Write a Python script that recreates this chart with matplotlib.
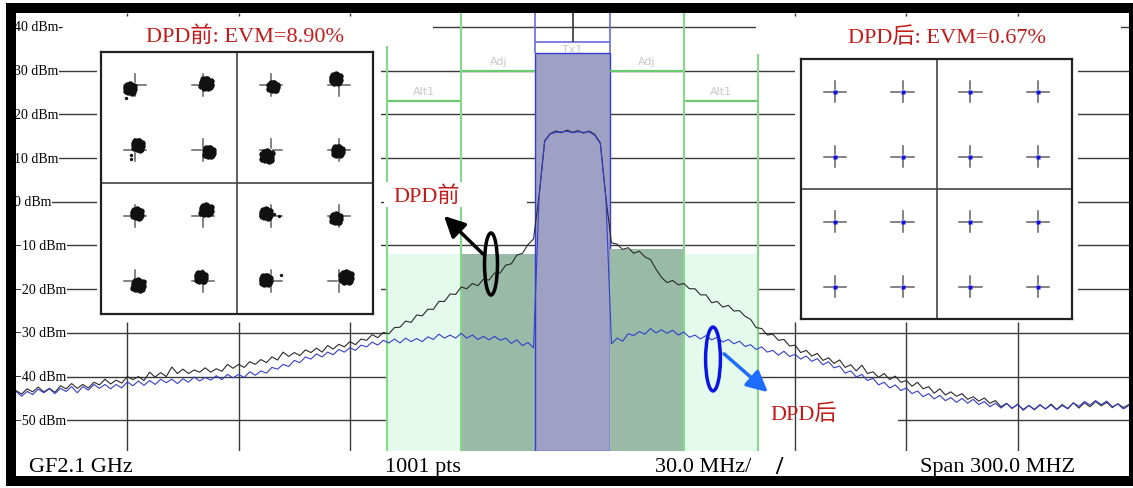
import numpy as np
import matplotlib
matplotlib.use("Agg")
import matplotlib.pyplot as plt
from matplotlib.patches import Rectangle, Ellipse, FancyArrowPatch

# ---------------- data ----------------
freq_mhz = np.linspace(-150, 150, 201)          # 1.5 MHz sampling over 300 MHz span

before_dpd = [
    -43.2, -44.0, -42.8, -43.5, -42.4, -43.5, -42.7, -43.6, -42.1, -42.8,
    -41.6, -42.7, -41.8, -42.6, -41.3, -41.9, -40.6, -41.7, -40.8, -41.5,
    -40.0, -40.7, -40.0, -40.9, -39.0, -40.1, -39.1, -40.0, -37.8, -39.3,
    -38.3, -39.3, -38.5, -39.0, -38.0, -39.0, -38.2, -38.8, -37.2, -38.1,
    -37.2, -37.9, -36.6, -37.2, -36.1, -36.8, -35.5, -36.2, -34.4, -35.4,
    -34.5, -35.2, -33.9, -34.5, -33.5, -34.4, -32.9, -33.7, -32.6, -33.2,
    -32.0, -32.7, -31.4, -31.7, -30.4, -31.1, -29.9, -30.2, -28.8, -28.7,
    -27.3, -27.6, -25.9, -26.1, -24.6, -24.6, -22.8, -22.8, -21.1, -21.2,
    -19.5, -19.9, -18.7, -19.2, -17.7, -17.9, -16.3, -16.3, -14.5, -14.2,
    -12.2, -11.8, -9.8, -8.5, 1.5, 14.0, 15.6, 16.2, 15.8, 16.4,
    15.9, 16.3, 15.7, 16.2, 15.4, 13.5, 1.0, -9.4, -9.7, -10.9,
    -10.5, -11.8, -11.3, -12.6, -13.2, -15.4, -17.3, -18.5, -18.0, -19.0,
    -18.7, -19.9, -19.9, -21.3, -21.3, -23.1, -22.8, -24.1, -23.7, -25.0,
    -24.9, -26.2, -26.9, -28.8, -29.0, -30.5, -30.3, -31.7, -31.5, -33.0,
    -32.8, -34.5, -34.0, -35.3, -34.7, -36.3, -35.7, -37.0, -36.2, -37.9,
    -37.3, -38.7, -37.4, -39.3, -38.9, -40.2, -39.3, -40.7, -39.9, -41.3,
    -40.9, -42.2, -41.3, -42.8, -42.3, -43.8, -42.8, -44.2, -43.5, -44.5,
    -43.9, -45.2, -44.6, -45.6, -44.9, -46.1, -45.5, -46.9, -46.1, -47.3,
    -46.3, -47.7, -46.6, -47.6, -46.5, -47.4, -46.3, -47.5, -46.4, -47.3,
    -46.0, -47.2, -46.0, -46.9, -45.7, -46.7, -45.9, -47.1, -46.2, -47.1, -46.4,
]

after_dpd = [
    -43.4, -44.5, -43.4, -44.1, -42.9, -43.7, -42.8, -43.9, -42.7, -43.4,
    -42.3, -43.7, -42.3, -43.1, -41.8, -42.7, -41.8, -42.8, -41.8, -42.6,
    -41.2, -42.1, -41.0, -42.0, -40.9, -41.8, -40.6, -41.4, -40.6, -41.6,
    -40.5, -41.3, -40.1, -41.0, -40.2, -40.8, -39.8, -40.7, -39.5, -40.3,
    -39.5, -40.2, -38.9, -39.7, -38.7, -39.2, -37.9, -38.3, -37.2, -37.7,
    -36.3, -36.8, -35.5, -36.0, -34.8, -35.5, -34.4, -35.0, -33.8, -34.4,
    -33.4, -34.0, -32.8, -33.2, -32.1, -32.8, -31.7, -32.3, -31.4, -32.3,
    -31.2, -32.0, -31.3, -32.0, -30.9, -31.5, -30.3, -31.2, -30.5, -31.2,
    -30.1, -31.2, -30.5, -31.5, -30.8, -31.6, -30.8, -31.7, -31.2, -32.4,
    -31.6, -32.9, -32.2, -33.4, 1.2, 13.8, 15.5, 15.9, 16.0, 16.1,
    15.8, 16.0, 15.9, 16.0, 15.2, 13.3, 0.8, -32.5, -31.2, -31.9,
    -30.2, -30.6, -29.7, -30.3, -29.0, -30.0, -29.3, -30.1, -29.4, -30.5,
    -29.8, -31.0, -30.5, -31.4, -30.6, -31.6, -31.0, -32.1, -31.5, -32.5,
    -31.9, -33.1, -32.7, -33.8, -33.2, -34.4, -34.0, -35.1, -34.2, -35.4,
    -34.9, -36.0, -35.3, -36.5, -35.9, -37.3, -36.6, -38.0, -37.6, -39.2,
    -38.7, -40.1, -39.5, -40.9, -40.4, -41.9, -41.3, -42.6, -41.9, -43.2,
    -42.6, -43.9, -43.3, -44.6, -43.9, -45.1, -44.3, -45.5, -44.8, -45.9,
    -45.0, -46.1, -45.2, -46.4, -45.7, -46.9, -46.1, -47.2, -46.2, -47.2,
    -46.4, -47.5, -46.6, -47.5, -46.4, -47.4, -46.5, -47.6, -46.6, -47.4,
    -46.0, -46.8, -45.7, -46.5, -45.5, -46.4, -45.6, -46.9, -46.3, -47.4, -46.6,
]

grid_levels_dbm = [40, 30, 20, 10, 0, -10, -20, -30, -40, -50]
y_tick_labels = ['40 dBm-', '30 dBm', '20 dBm', '10 dBm', '0 dBm',
                 '\u221210 dBm', '\u221220 dBm', '\u221230 dBm', '\u221240 dBm', '\u221250 dBm']
grid_freqs_mhz = [-120, -90, -60, 60, 90, 120]

chan_names = ['Alt1', 'Adj', 'Tx1', 'Adj', 'Alt1']
chan_lo = [-50, -30, -10, 10, 30]
chan_hi = [-30, -10, 10, 30, 50]
chan_fill_top = [-11.9, -11.9, 34.05, -10.8, -12.0]
chan_limit = [23.1, 30.0, 36.6, 30.0, 23.1]
chan_colors = ['#e4faec', '#98baa6', '#9ea0c4', '#98baa6', '#e4faec']

iq_levels = [-3, -1, 1, 3]
# DPD-before cluster centroid offsets (row-major, top row first)
before_dI = [-0.15, 0.09, 0.06, -0.09, 0.09, 0.18, -0.12, -0.03,
             0.06, 0.09, -0.15, -0.09, 0.09, -0.06, -0.15, 0.21]
before_dQ = [-0.12, 0.03, -0.06, 0.18, 0.15, -0.06, -0.18, -0.03,
             0.06, 0.18, 0.06, -0.09, -0.12, 0.12, 0.03, 0.12]
before_size = [1.0, 1.1, 0.9, 1.0, 1.0, 1.0, 1.1, 1.0,
               1.0, 1.1, 1.0, 0.9, 1.1, 1.0, 1.0, 1.2]
blob_shape_x = [0.00, 0.45, -0.45, 0.80, -0.80, 0.25, -0.30, 0.85, -0.85,
                0.40, -0.55, 0.05, 0.65, -0.25, 0.30, -0.70, 0.55, -0.10,
                0.20, -0.20, 0.00, 0.15]
blob_shape_y = [0.00, 0.35, -0.30, -0.15, 0.40, 0.80, -0.75, 0.50, -0.50,
                -0.85, 0.80, 0.95, -0.65, 0.20, -0.35, 0.05, 0.10, -0.40,
                -0.10, 0.45, -0.45, 0.55]
stray_I = [-3.26, -3.12, -3.12, 1.09, 1.24, 1.29]
stray_Q = [2.60, 0.85, 0.73, -0.94, -1.00, -2.82]

evm_before = 8.90
evm_after = 0.67

# ---------------- layout helpers ----------------
W, H = 1133, 489
DPI = 100
X0, X1, YT, YB = 16, 1129, 14, 452       # plot area in pixels
Y_TOP = 43.2
Y_BOT = Y_TOP - (YB - YT) / 4.37

def fpx(px):
    return -150 + (px - X0) * 300.0 / (X1 - X0)

def dpx(py):
    return Y_TOP - (py - YT) * (Y_TOP - Y_BOT) / (YB - YT)

SERIF = ['Liberation Serif', 'Noto Sans CJK SC']
RED = '#c41a1a'

fig = plt.figure(figsize=(W / DPI, H / DPI), dpi=DPI)
fig.patch.set_facecolor('white')
fig.add_artist(Rectangle((6 / W, 1 - 487 / H), (1133 - 6) / W, (487 - 4) / H,
                         transform=fig.transFigure, fc='black', ec='none', zorder=-3))
fig.add_artist(Rectangle((X0 / W, 1 - 477 / H), (X1 - X0) / W, (477 - YT) / H,
                         transform=fig.transFigure, fc='white', ec='none', zorder=-2))

ax = fig.add_axes([X0 / W, 1 - YB / H, (X1 - X0) / W, (YB - YT) / H])
ax.set_xlim(-150, 150)
ax.set_ylim(Y_BOT, Y_TOP)
ax.axis('off')

# horizontal grid
ax.hlines(grid_levels_dbm, -150, 150, color='#3a3a3a', lw=1.0, zorder=1)

# channel fills
for lo, hi, top, col in zip(chan_lo, chan_hi, chan_fill_top, chan_colors):
    ec = '#3a3ad8' if col == '#9ea0c4' else 'none'
    ax.add_patch(Rectangle((lo, Y_BOT), hi - lo, top - Y_BOT, fc=col, ec=ec, lw=1.0, zorder=1.5))

# Tx top box
ax.vlines([chan_lo[2], chan_hi[2]], chan_fill_top[2], Y_TOP, color='#6a6ae0', lw=1.2, zorder=2)
ax.hlines(chan_limit[2], chan_lo[2], chan_hi[2], color='#6a6ae0', lw=1.2, zorder=2)
ax.vlines(0, chan_limit[2], Y_TOP, color='#333333', lw=1.2, zorder=2)

# channel limit lines (green)
GREEN = '#86d98a'
for name, lo, hi, lim in zip(chan_names, chan_lo, chan_hi, chan_limit):
    if name == 'Tx1':
        continue
    ax.hlines(lim, lo, hi, color='#6cc96f', lw=1.6, zorder=2)
    ax.text((lo + hi) / 2, lim + 1.0, name, color='#c8c8c8', fontsize=8,
            ha='center', va='bottom', zorder=2, family='DejaVu Sans')
ax.text(0, 35.0, 'Tx1', color='#c8c8c8', fontsize=8, ha='center', va='center',
        zorder=2, family='DejaVu Sans')
ax.vlines([-50, -30, 30, 50], Y_BOT, Y_TOP, color=GREEN, lw=1.5, zorder=2)

# white cover patches (insets, titles, labels)
def white_px(x0, x1, y0, y1, z=2.5):
    ax.add_patch(Rectangle((fpx(x0), dpx(y1)), fpx(x1) - fpx(x0), dpx(y0) - dpx(y1),
                           fc='white', ec='none', zorder=z))

white_px(16, 433, 14, 47)
white_px(97, 381, 14, 323)
white_px(756, 1121, 14, 55)
white_px(795, 1078, 14, 323)
white_px(384, 527, 183, 208)
white_px(759, 898, 395, 452)

# vertical grid (outside channels)
ax.vlines(grid_freqs_mhz, Y_BOT, dpx(323), color='#3a3a3a', lw=1.0, zorder=3)
ax.vlines(grid_freqs_mhz, dpx(17), Y_TOP, color='#3a3a3a', lw=1.0, zorder=3)

# y labels
for lev, lab in zip(grid_levels_dbm, y_tick_labels):
    ax.text(fpx(14.5), lev, lab, fontsize=10, family=SERIF, ha='left', va='center',
            zorder=5, clip_on=True,
            bbox=dict(fc='white', ec='none', pad=0.3))

# traces
ax.plot(freq_mhz, before_dpd, color='#2a2a2a', lw=0.8, zorder=4)
ax.plot(freq_mhz, after_dpd, color='#3340cc', lw=0.8, zorder=4.2)

# annotations
ax.add_patch(Ellipse((fpx(491), dpx(265)), 3.5, 14.2, fill=False, ec='black', lw=2.5, zorder=6))
ax.add_patch(Ellipse((fpx(713), dpx(360)), 4.0, 14.6, fill=False, ec='#0a14e6', lw=2.5, zorder=6))
ax.add_patch(FancyArrowPatch((fpx(485), dpx(257)), (fpx(442), dpx(215)),
                             arrowstyle='-|>,head_length=0.7,head_width=0.35',
                             mutation_scale=18, color='black', lw=2.5, zorder=6))
ax.add_patch(FancyArrowPatch((fpx(722), dpx(353)), (fpx(770), dpx(395)),
                             arrowstyle='-|>,head_length=0.7,head_width=0.35',
                             mutation_scale=18, color='#1e6bff', lw=2.5, zorder=6))
ax.text(fpx(427), dpx(202), 'DPD前', color=RED, fontsize=16, family=SERIF,
        ha='center', va='baseline', zorder=6)
ax.text(fpx(804), dpx(420), 'DPD后', color=RED, fontsize=16, family=SERIF,
        ha='center', va='baseline', zorder=6)
ax.text(fpx(245), dpx(42), f'DPD前: EVM={evm_before:.2f}%', color=RED, fontsize=16,
        family=SERIF, ha='center', va='baseline', zorder=6)
ax.text(fpx(947), dpx(43), f'DPD后: EVM={evm_after:.2f}%', color=RED, fontsize=16,
        family=SERIF, ha='center', va='baseline', zorder=6)

# bottom status line
def ftext(px, py, s, **kw):
    fig.text(px / W, 1 - py / H, s, family=SERIF, va='baseline', **kw)

ftext(29, 472, 'GF2.1 GHz', fontsize=16)
ftext(385, 472, '1001 pts', fontsize=16)
ftext(655, 472, '30.0 MHz/', fontsize=16)
ftext(779, 474, '/', fontsize=19, fontweight='bold', ha='center')
ftext(920, 472, 'Span 300.0 MHZ', fontsize=16)

# constellation insets
def constellation(rect_px, dI, dQ, sizes, ideal):
    x0, y0, x1, y1 = rect_px
    cax = fig.add_axes([x0 / W, 1 - y1 / H, (x1 - x0) / W, (y1 - y0) / H])
    cax.set_zorder(5)
    cax.set_xlim(-4, 4)
    cax.set_ylim(-4, 4)
    cax.set_xticks([])
    cax.set_yticks([])
    for sp in cax.spines.values():
        sp.set_linewidth(1.6)
        sp.set_color('#222222')
    cax.axvline(0, color='#444444', lw=1.2)
    cax.axhline(0, color='#444444', lw=1.2)
    k = 0
    for q in iq_levels[::-1]:
        for i in iq_levels:
            for a, b in ((-0.33, -0.07), (0.07, 0.33)):
                cax.plot([i + a, i + b], [q, q], color='#606060', lw=1.1)
                cax.plot([i, i], [q + a, q + b], color='#606060', lw=1.1)
            if ideal:
                cax.plot([i], [q], 's', ms=2.8, color='#1010e0', mec='none')
            else:
                r = 0.15 * sizes[k]
                bx = [i + dI[k] + r * sx for sx in blob_shape_x]
                by = [q + dQ[k] + r * sy for sy in blob_shape_y]
                cax.plot(bx, by, 'o', ms=4.6, color='#111111', mec='none')
            k += 1
    if not ideal:
        cax.plot(stray_I, stray_Q, 'o', ms=2.4, color='#111111', mec='none')
    return cax

constellation((101, 53, 373, 315), before_dI, before_dQ, before_size, ideal=False)
constellation((801, 60, 1072, 320), None, None, None, ideal=True)

fig.savefig('out.png', dpi=DPI, facecolor='white')
